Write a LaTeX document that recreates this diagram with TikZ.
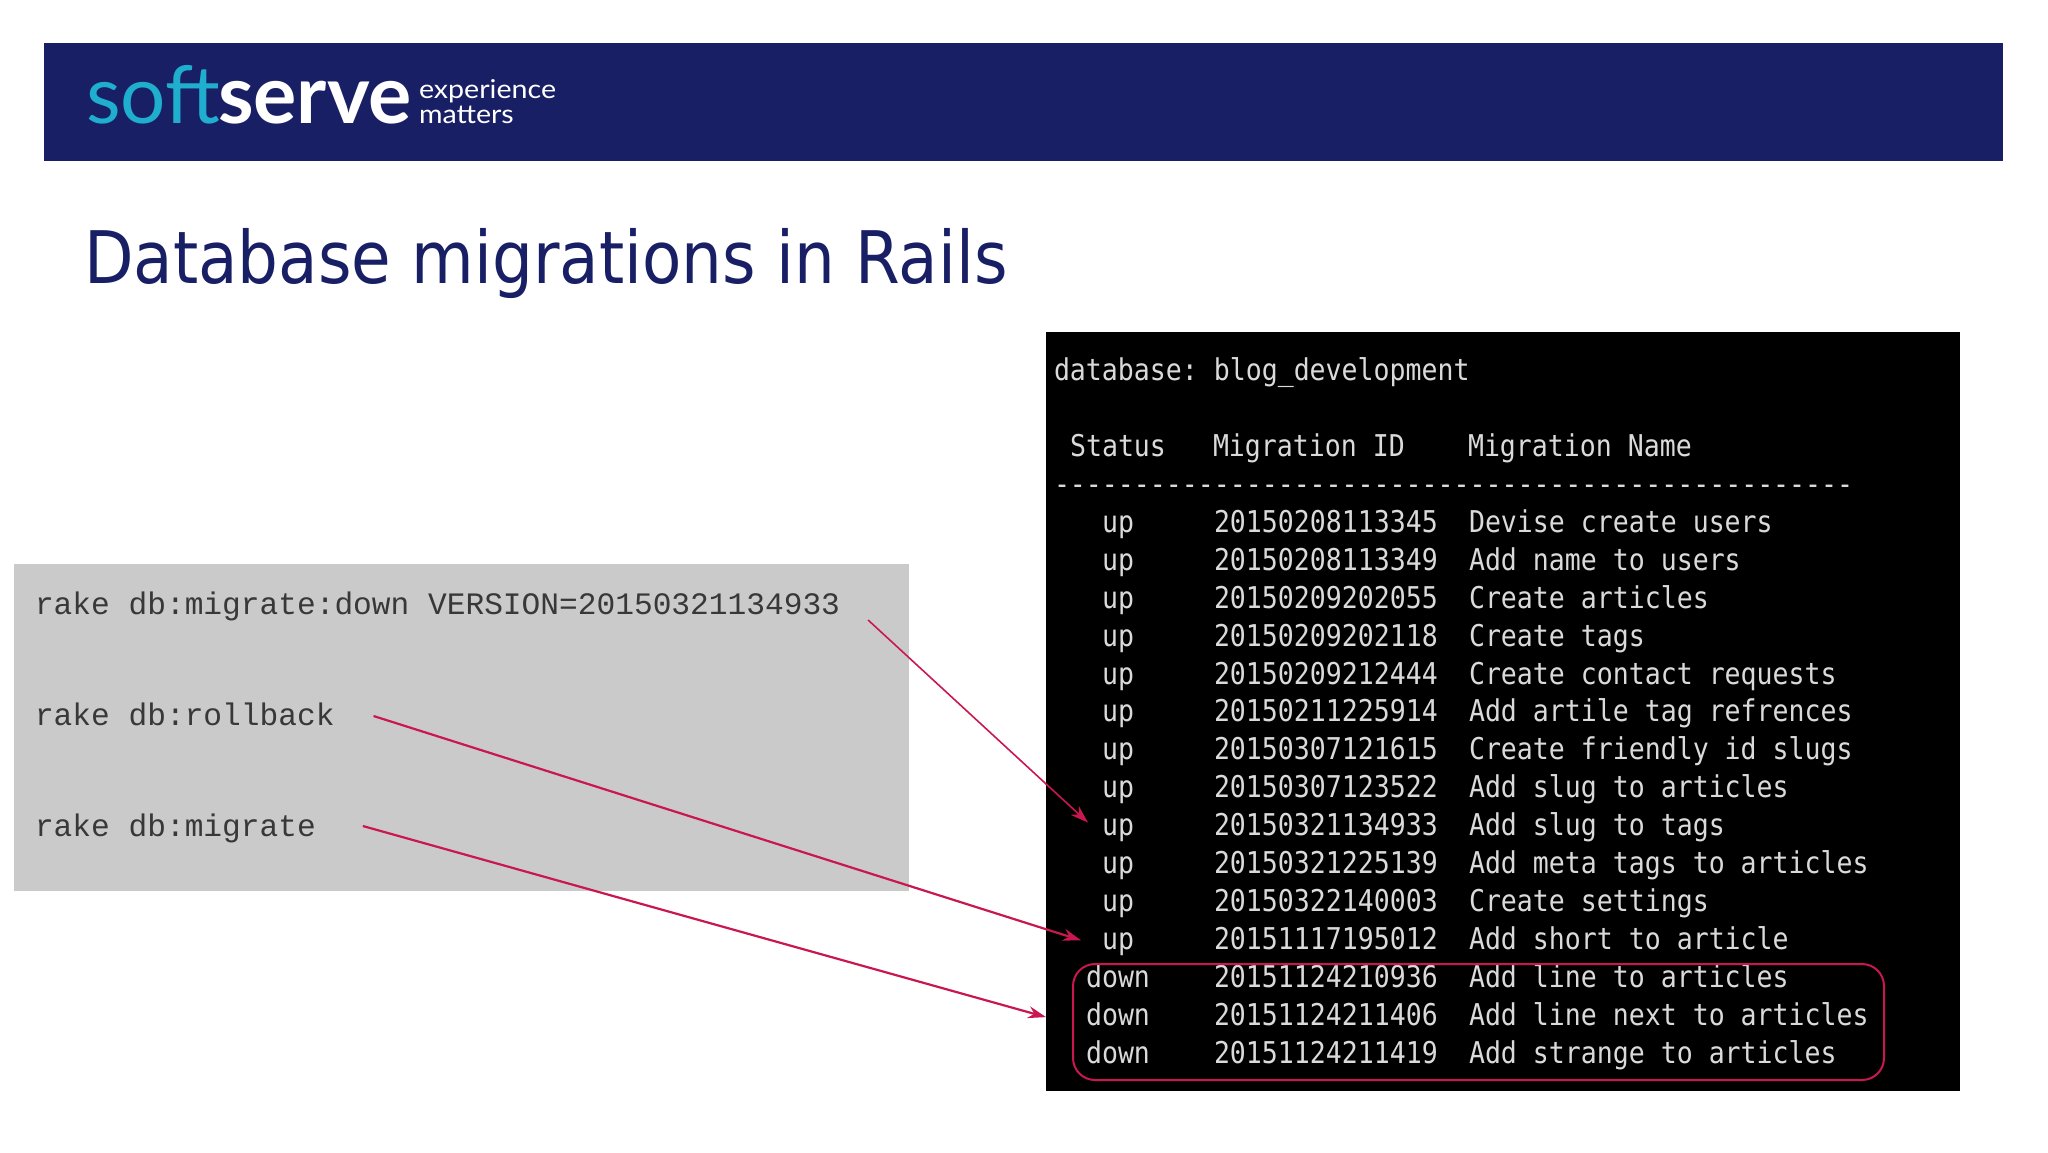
\documentclass[tikz,border=0pt]{standalone}
\usepackage{fontspec}
\usetikzlibrary{arrows.meta}
\newfontfamily\titlefont[FakeStretch=0.888]{DejaVu Sans}
\newfontfamily\logofont[BoldFont={Lato Bold}]{Lato}
\newfontfamily\tagfont[FakeStretch=1.1]{Lato}
\newfontfamily\cmdfont{Liberation Mono}
\newfontfamily\termfont[FakeStretch=0.885]{DejaVu Sans Mono}
\definecolor{bannerblue}{HTML}{191F65}
\definecolor{softteal}{HTML}{1FAECD}
\definecolor{panelgray}{HTML}{CBCACB}
\definecolor{termgray}{HTML}{DADADA}
\definecolor{markred}{HTML}{C9174F}
\tikzset{
    plain/.style={inner sep=0pt, outer sep=0pt, anchor=base west},
    cmdtext/.style={plain, text=black!78, font=\cmdfont\fontsize{31.2}{36}\selectfont},
    termtext/.style={plain, text=termgray, font=\termfont\fontsize{30}{36}\selectfont},
    statustext/.style={termtext, anchor=base},
    marker/.style={draw=markred, line width=2.2pt, -{Stealth[length=18pt,width=12pt]}},
}
\begin{document}
\begin{tikzpicture}[x=1pt,y=-1pt]
        \useasboundingbox (0,0) rectangle (2048,1152);
        \fill[bannerblue] (44,43) rectangle (2003,161);
        \fill[panelgray] (14,564) rectangle (909,891);
        \fill[black] (1046,332) rectangle (1960,1091);

        \node[plain, text=softteal, font=\logofont\fontsize{80}{82}\selectfont] (logosoft) at (86,123) {soft};
        \node[plain, text=white, font=\logofont\bfseries\fontsize{81}{83}\selectfont] (logoserve) at (218,123) {serve};
        \node[plain, text=white, font=\tagfont\fontsize{26}{28}\selectfont] (logoexp) at (419,98) {experience};
        \node[plain, text=white, font=\tagfont\fontsize{26}{28}\selectfont] (logomat) at (419,123) {matters};

        \node[plain, text=bannerblue, font=\titlefont\fontsize{72.5}{80}\selectfont] (title) at (84,283) {Database migrations in Rails};

        \node[cmdtext] (cmddown) at (35,614) {rake db:migrate:down VERSION=20150321134933};
        \node[cmdtext] (cmdback) at (35,725) {rake db:rollback};
        \node[cmdtext] (cmdmig) at (35,836) {rake db:migrate};

        \node[termtext] (dbname) at (1054,380) {database:\ blog\_development};
        \node[statustext] (headstatus) at (1118,456) {Status};
        \node[termtext] (headid) at (1213,456) {Migration ID};
        \node[termtext] (headname) at (1468,456) {Migration Name};
        \node[termtext] (headrule) at (1054,494) {--------------------------------------------------};

        \foreach \st/\id/\nm [count=\i] in {
            up/20150208113345/Devise create users,
            up/20150208113349/Add name to users,
            up/20150209202055/Create articles,
            up/20150209202118/Create tags,
            up/20150209212444/Create contact requests,
            up/20150211225914/Add artile tag refrences,
            up/20150307121615/Create friendly id slugs,
            up/20150307123522/Add slug to articles,
            up/20150321134933/Add slug to tags,
            up/20150321225139/Add meta tags to articles,
            up/20150322140003/Create settings,
            up/20151117195012/Add short to article,
            down/20151124210936/Add line to articles,
            down/20151124211406/Add line next to articles,
            down/20151124211419/Add strange to articles}{
            \node[statustext] (st\i) at (1118,494.5+37.9*\i) {\st};
            \node[termtext] (id\i) at (1214,494.5+37.9*\i) {\id};
            \node[termtext] (nm\i) at (1469,494.5+37.9*\i) {\nm};
        }

        \draw[markred, line width=2pt, rounded corners=22pt] (1073,964) rectangle (1884,1080);

        \coordinate (downfrom) at ([shift={(28,6)}]cmddown.base east);
        \coordinate (downto) at ([shift={(-30,-13)}]st9.base);
        \coordinate (backfrom) at ([shift={(39,-9)}]cmdback.base east);
        \coordinate (backto) at ([shift={(-37,-9)}]st12.base);
        \coordinate (migfrom) at ([shift={(47,-10)}]cmdmig.base east);
        \coordinate (migto) at ([shift={(-72,-8)}]st14.base);
        \draw[marker, line width=1.6pt] (downfrom) -- (downto);
        \draw[marker] (backfrom) -- (backto);
        \draw[marker] (migfrom) -- (migto);
    \end{tikzpicture}
\end{document}
